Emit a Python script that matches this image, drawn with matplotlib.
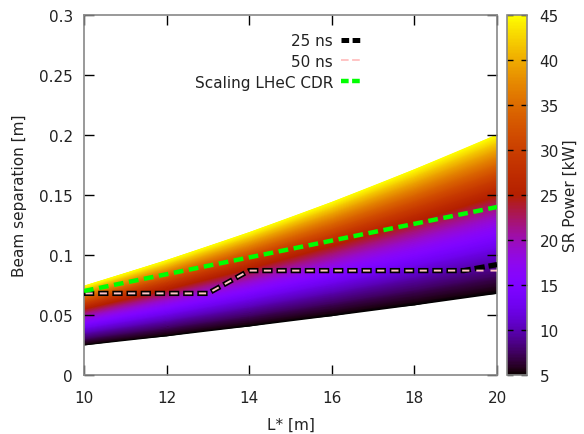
import numpy as np
import matplotlib
matplotlib.use('Agg')
import matplotlib.pyplot as plt
from matplotlib.lines import Line2D

# ---- data ----
L_star = [10, 12, 14, 16, 18, 20]                       # L* [m]
sep_low = [0.025, 0.0326, 0.0408, 0.0494, 0.0584, 0.068]  # separation at 5 kW
sep_high = [0.074, 0.0954, 0.1186, 0.1438, 0.171, 0.200]  # separation at 45 kW
power_min, power_max = 5, 45                             # SR power range [kW]

ns25_L = [10, 13, 14, 19.2, 20]
ns25_sep = [0.068, 0.068, 0.087, 0.087, 0.092]
ns50_L = [10, 13, 14, 20]
ns50_sep = [0.068, 0.068, 0.087, 0.087]
cdr_L = [10, 20]
cdr_sep = [0.070, 0.140]

xticks = [10, 12, 14, 16, 18, 20]
yticks = [0, 0.05, 0.1, 0.15, 0.2, 0.25, 0.3]
ytick_labels = ["0", "0.05", "0.1", "0.15", "0.2", "0.25", "0.3"]
cbticks = [5, 10, 15, 20, 25, 30, 35, 40, 45]

plt.rcParams['font.family'] = ['DejaVu Sans']
plt.rcParams['lines.scale_dashes'] = False
FS = 11
TXT = '#222222'

fig = plt.figure(figsize=(5.84, 4.35), dpi=100)
W, H = 584, 435
ax = fig.add_axes([84 / W, (H - 376) / H, (497 - 84) / W, (376 - 16) / H])
cax = fig.add_axes([507 / W, (H - 376) / H, (527 - 507) / W, (376 - 16) / H])

# ---- surface: separation grows as sqrt(power) between the two bounds ----
P = np.linspace(power_min, power_max, 81)
Lg = np.array(L_star, dtype=float)
lo = np.array(sep_low)
hi = np.array(sep_high)
frac = (np.sqrt(P) - np.sqrt(power_min)) / (np.sqrt(power_max) - np.sqrt(power_min))
X = np.tile(Lg, (len(P), 1))
Y = lo[None, :] + (hi - lo)[None, :] * frac[:, None]
C = np.tile(P[:, None], (1, len(Lg)))
mesh = ax.pcolormesh(X, Y, C, cmap='gnuplot', vmin=power_min, vmax=power_max,
                     shading='gouraud', rasterized=True)

# ---- lines ----
PINK = '#ffc4c4'
ax.plot(ns25_L, ns25_sep, color='black', lw=3.8, linestyle=(0, (7.4, 2.8)),
        dash_capstyle='butt', zorder=3)
ax.plot(ns50_L, ns50_sep, color=PINK, lw=1.4, linestyle=(9.1, (5.2, 5.0)),
        dash_capstyle='butt', zorder=4)
ax.plot(cdr_L, cdr_sep, color='#00ff00', lw=3.2, linestyle=(0, (7, 4)), zorder=5)

ax.set_xlim(10, 20)
ax.set_ylim(0, 0.3)
ax.set_xticks(xticks)
ax.set_yticks(yticks)
ax.set_yticklabels(ytick_labels)
ax.tick_params(direction='in', length=7, width=1, color='black',
               top=True, right=True, labelsize=FS, labelcolor=TXT)
ax.tick_params(axis='y', pad=8)
ax.tick_params(axis='x', pad=11)
for s in ax.spines.values():
    s.set_color('#888888')
    s.set_linewidth(1.2)
ax.set_xlabel('L* [m]', fontsize=FS, color=TXT, labelpad=8)
ax.set_ylabel('Beam separation [m]', fontsize=FS, color=TXT, labelpad=9)

# ---- legend ----
handles = [
    Line2D([], [], color='black', lw=3.6, linestyle=(0, (5.5, 2.5))),
    Line2D([], [], color=PINK, lw=1.4, linestyle=(0, (5.5, 2.5))),
    Line2D([], [], color='#00ff00', lw=3.2, linestyle=(0, (5.5, 2.5))),
]
labels = ['25 ns', '50 ns', 'Scaling LHeC CDR']
leg = ax.legend(handles, labels, loc='upper right', markerfirst=False,
                frameon=False, fontsize=FS, handlelength=1.35,
                handletextpad=0.55, labelspacing=0.38,
                bbox_to_anchor=((362 - 84) / 413, (376 - 34) / 360),
                borderaxespad=0, borderpad=0)
for t in leg.get_texts():
    t.set_color(TXT)

# ---- colorbar ----
cb = fig.colorbar(mesh, cax=cax, ticks=cbticks)
cb.outline.set_edgecolor('#888888')
cb.outline.set_linewidth(1.2)
cax.tick_params(direction='in', length=4, width=1, color='black',
                left=True, right=True, labelsize=FS, labelcolor=TXT, pad=9)
cb.set_label('SR Power [kW]', fontsize=FS, color=TXT, labelpad=3)

fig.savefig('out.png', dpi=100)
